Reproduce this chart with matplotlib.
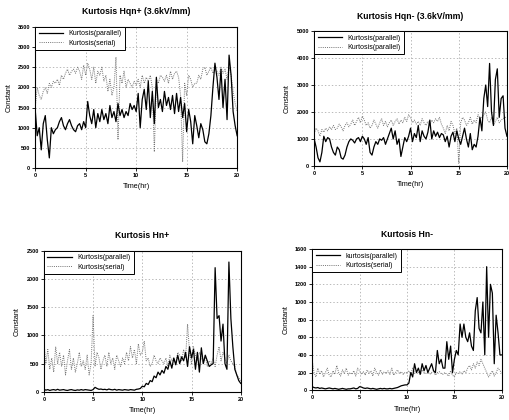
import numpy as np
import matplotlib
matplotlib.use("Agg")
import matplotlib.pyplot as plt

plt.rcParams['font.family'] = ['Liberation Sans', 'DejaVu Sans']

time_hr = [round(0.2 * i, 1) for i in range(101)]

hqnp_parallel = [1450,800,1000,450,1100,1300,700,250,1000,850,
                 950,1000,1150,1250,1050,950,1100,1200,1050,950,
                 900,1050,1100,950,1150,1000,1650,1300,1100,1450,
                 1000,1350,1150,1450,1200,1350,1100,1550,1250,1400,
                 1150,1600,1300,1450,1250,1400,1300,1600,1450,1550,
                 1400,1850,1000,1700,1950,1450,2150,1250,1900,1100,
                 2250,1500,1700,1400,1900,1550,1750,1450,1800,1350,
                 1850,1400,1750,1250,1600,900,1450,1150,600,1300,
                 1050,750,1100,950,650,600,850,1300,2000,2600,
                 2250,1700,2450,1500,2200,1200,2800,2300,1400,1050,
                 800]
hqnp_serial = [1500,2000,1800,1700,1900,2000,1850,2100,2000,2150,
               2100,2200,2050,2300,2200,2350,2450,2300,2400,2450,
               2350,2500,2400,2200,2550,2300,2600,2450,2200,2500,
               2100,2400,2300,2500,2150,2300,1900,2200,1800,2000,
               2750,700,2300,2100,2400,2000,2200,2100,2000,2150,
               2050,2200,2000,2300,2100,2250,2150,2300,2000,400,
               2200,2100,2300,2250,2150,2300,2100,2400,2200,2350,
               2400,2250,1800,150,2100,1800,2300,2200,2000,2100,
               2100,2300,2200,2450,2500,2300,2400,2500,2350,2450,
               2400,2300,2500,2350,2450,2200,2500,2300,1900,1600,
               1400]

hqnm_parallel = [1000,700,300,150,500,1100,900,1050,1000,700,
                 500,400,700,600,300,250,400,700,900,1000,
                 950,850,1000,1050,900,1100,1000,800,1050,500,
                 400,700,900,800,1000,950,1050,800,1000,1200,
                 1400,1000,1300,800,1000,350,700,1050,900,1100,
                 1400,900,1200,1050,1500,900,1300,1100,1000,1250,
                 1700,1000,1300,1100,1250,1050,1200,1150,900,1100,
                 700,1100,1250,900,1300,1000,800,1100,1400,1000,
                 700,1200,600,800,700,1100,1800,1300,2500,3000,
                 2200,3800,2000,1500,3200,3600,1800,2500,2600,1400,
                 1100]
hqnm_serial = [1200,1400,1300,1100,1350,1250,1400,1300,1450,1350,
               1500,1350,1400,1550,1450,1300,1500,1600,1450,1550,
               1700,1500,1650,1800,1600,1850,1700,1500,1600,1400,
               1500,1700,1550,1400,1600,1750,1500,1650,1450,1600,
               1700,1500,1650,1750,1550,1700,1600,1800,1650,1900,
               1800,1600,1700,1550,1650,1500,1750,1600,1500,1650,
               1500,1700,1600,1750,1650,1800,1550,1400,1200,1500,
               1300,1650,1500,1200,1400,100,1600,1800,1700,1500,
               1600,1800,1550,1700,1600,1900,1750,1800,1900,2000,
               1700,1600,1800,1500,1650,1800,1600,1700,1750,1800,
               1800]

hnp_parallel = [50,30,40,25,35,40,30,45,30,35,
                40,30,25,35,40,30,25,35,30,40,
                30,40,35,30,25,40,80,60,45,50,
                40,45,35,50,40,35,45,30,40,35,
                30,40,35,30,40,35,30,45,50,60,
                100,90,150,130,200,180,280,250,350,300,
                380,330,450,400,550,420,600,480,650,500,
                620,550,700,450,800,600,750,400,700,350,
                780,500,650,550,450,480,500,2200,1300,1350,
                900,1200,500,400,2300,1300,800,400,300,200,
                150]
hnp_serial = [900,500,750,400,600,350,800,500,700,450,
              650,300,550,750,400,600,350,500,700,450,
              550,400,650,300,500,1350,450,700,600,400,
              550,650,450,700,500,600,400,650,550,450,
              600,500,700,550,800,600,750,500,850,650,
              700,900,550,600,450,500,650,550,500,600,
              550,500,600,450,650,550,600,500,700,650,
              550,750,600,1200,700,500,800,650,550,700,
              600,500,650,450,550,500,600,450,650,800,
              550,700,600,500,650,550,500,450,300,250,
              200]

hnm_parallel = [40,30,25,30,20,25,20,15,20,25,
                20,15,20,15,10,15,20,15,10,15,
                15,20,25,15,20,40,35,25,20,25,
                20,15,20,15,10,15,20,15,20,15,
                15,20,15,20,25,30,40,50,55,60,
                60,80,200,150,300,200,250,180,300,220,
                280,200,250,300,220,200,450,300,350,250,
                250,550,350,500,200,350,450,400,750,600,
                750,600,550,650,500,450,900,1050,700,650,
                1000,400,1400,600,1200,1100,300,850,650,400,
                400]
hnm_serial = [350,200,150,250,180,220,150,200,250,170,
              150,220,180,280,200,160,230,190,250,170,
              200,180,220,160,250,220,180,210,170,230,
              190,220,160,250,200,170,230,180,210,190,
              220,180,250,170,200,230,190,210,180,200,
              200,220,180,250,190,210,200,180,230,200,
              190,210,180,200,220,170,200,210,190,180,
              200,180,160,220,170,150,200,190,210,180,
              220,200,250,280,230,300,250,320,280,350,
              300,250,200,150,180,220,160,200,250,220,
              200]

panels = [
    dict(title="Kurtosis Hqn+ (3.6kV/mm)", par=hqnp_parallel, ser=hqnp_serial,
         labels=["Kurtosis(parallel)", "Kurtosis(serial)"], ymax=3500, ystep=500,
         rect=[0.069, 0.600, 0.396, 0.336]),
    dict(title="Kurtosis Hqn- (3.6kV/mm)", par=hqnm_parallel, ser=hqnm_serial,
         labels=["Kurtosis(parallel)", "Kurtosis(parallel)"], ymax=5000, ystep=1000,
         rect=[0.616, 0.605, 0.378, 0.321]),
    dict(title="Kurtosis Hn+", par=hnp_parallel, ser=hnp_serial,
         labels=["Kurtosis(parallel)", "Kurtosis(serial)"], ymax=2500, ystep=500,
         rect=[0.086, 0.067, 0.386, 0.336]),
    dict(title="Kurtosis Hn-", par=hnm_parallel, ser=hnm_serial,
         labels=["kurtosis(parallel)", "Kurtosis(serial)"], ymax=1600, ystep=200,
         rect=[0.612, 0.071, 0.372, 0.336]),
]

fig = plt.figure(figsize=(5.1, 4.2), dpi=100)
for p in panels:
    ax = fig.add_axes(p["rect"])
    ax.plot(time_hr, p["ser"], color="0.45", lw=0.7, ls=(0, (1, 1.2)), label=p["labels"][1], zorder=2)
    ax.plot(time_hr, p["par"], color="black", lw=0.9, label=p["labels"][0], zorder=3)
    ax.set_xlim(0, 20)
    ax.set_ylim(0, p["ymax"])
    ax.set_xticks([0, 5, 10, 15, 20])
    ax.set_yticks(np.arange(0, p["ymax"] + 1, p["ystep"]))
    ax.tick_params(labelsize=4, length=2, width=0.6, pad=1.5)
    for lab in ax.get_xticklabels() + ax.get_yticklabels():
        lab.set_fontweight("bold")
    ax.grid(True, color="0.62", lw=0.5, ls=(0, (2, 3)), zorder=1)
    for s in ax.spines.values():
        s.set_linewidth(0.8)
    ax.set_title(p["title"], fontsize=6.2, fontweight="bold", pad=9)
    ax.set_xlabel("Time(hr)", fontsize=5.2, labelpad=4)
    ax.set_ylabel("Constant", fontsize=5.2, labelpad=4)
    h, l = ax.get_legend_handles_labels()
    leg = ax.legend(h[::-1], l[::-1], loc="upper left", fontsize=5, frameon=True,
                    fancybox=False, borderaxespad=0, handlelength=3.5,
                    borderpad=0.5, labelspacing=0.35, framealpha=1)
    leg.get_frame().set_edgecolor("black")
    leg.get_frame().set_linewidth(0.7)

fig.savefig("out.png", dpi=100)
